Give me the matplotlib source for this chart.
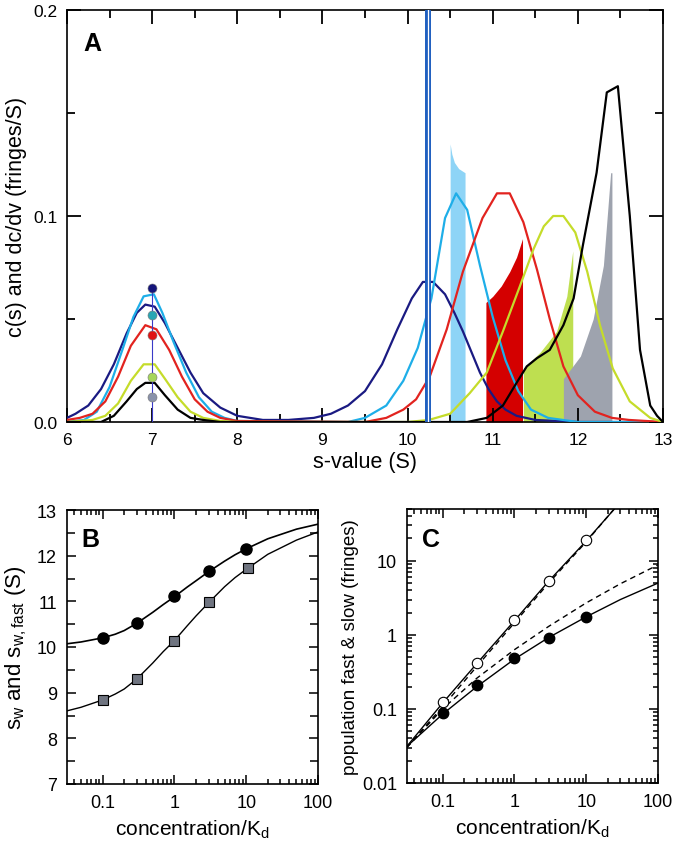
import numpy as np
import matplotlib
matplotlib.use("Agg")
import matplotlib.pyplot as plt
from matplotlib.ticker import MultipleLocator, LogLocator, NullFormatter, FixedLocator, FixedFormatter

plt.rcParams['font.family'] = ['Liberation Sans', 'DejaVu Sans']
plt.rcParams['mathtext.fontset'] = 'custom'
plt.rcParams['mathtext.rm'] = 'Liberation Sans'
plt.rcParams['mathtext.it'] = 'Liberation Sans:italic'

# ---------------- panel A data: c(s) curves ----------------
s_navy = [6.0, 6.1, 6.25, 6.4, 6.55, 6.7, 6.82, 6.92, 7.03, 7.15, 7.3, 7.45, 7.6, 7.8, 8.0, 8.3, 8.6, 8.9, 9.1,
          9.3, 9.5, 9.7, 9.88, 10.05, 10.18, 10.3, 10.44, 10.55, 10.65, 10.75, 10.85, 10.95, 11.05, 11.15, 11.28,
          11.5, 12.0, 13.0]
c_navy = [0.002, 0.004, 0.008, 0.016, 0.028, 0.043, 0.053, 0.057, 0.056, 0.048, 0.036, 0.024, 0.014, 0.007, 0.003,
          0.001, 0.001, 0.002, 0.004, 0.008, 0.015, 0.028, 0.045, 0.060, 0.068, 0.068, 0.062, 0.053, 0.044, 0.034,
          0.024, 0.016, 0.010, 0.006, 0.003, 0.001, 0.0, 0.0]

s_cyan = [6.0, 6.2, 6.35, 6.5, 6.65, 6.78, 6.9, 7.02, 7.12, 7.25, 7.4, 7.55, 7.7, 7.85, 8.0, 9.3, 9.5, 9.75, 9.95,
          10.12, 10.28, 10.44, 10.57, 10.70, 10.85, 11.0, 11.15, 11.3, 11.45, 11.65, 12.0, 13.0]
c_cyan = [0.0, 0.001, 0.005, 0.017, 0.035, 0.051, 0.061, 0.062, 0.053, 0.039, 0.024, 0.012, 0.005, 0.002, 0.0005,
          0.0, 0.002, 0.008, 0.020, 0.036, 0.060, 0.099, 0.111, 0.103, 0.076, 0.051, 0.030, 0.015, 0.006, 0.002,
          0.0, 0.0]

s_red = [6.0, 6.15, 6.3, 6.45, 6.6, 6.75, 6.92, 7.05, 7.2, 7.35, 7.5, 7.65, 7.8, 8.0, 9.5, 9.75, 9.95, 10.1, 10.26,
         10.46, 10.65, 10.88, 11.05, 11.2, 11.36, 11.52, 11.67, 11.83, 12.0, 12.2, 12.4, 12.6, 13.0]
c_red = [0.001, 0.002, 0.004, 0.010, 0.022, 0.037, 0.047, 0.045, 0.035, 0.022, 0.011, 0.005, 0.002, 0.0005, 0.0,
         0.002, 0.006, 0.011, 0.022, 0.045, 0.073, 0.099, 0.111, 0.111, 0.097, 0.074, 0.050, 0.027, 0.013, 0.005,
         0.002, 0.001, 0.0]

s_green = [6.0, 6.3, 6.45, 6.6, 6.75, 6.9, 7.03, 7.15, 7.3, 7.45, 7.6, 7.8, 8.0, 10.0, 10.25, 10.5, 10.73, 10.93,
           11.12, 11.32, 11.48, 11.6, 11.71, 11.83, 11.97, 12.11, 12.26, 12.41, 12.61, 12.85, 13.0]
c_green = [0.0, 0.001, 0.003, 0.009, 0.020, 0.028, 0.028, 0.021, 0.012, 0.005, 0.002, 0.0005, 0.0, 0.0, 0.001,
           0.004, 0.014, 0.024, 0.044, 0.066, 0.084, 0.095, 0.100, 0.100, 0.092, 0.073, 0.047, 0.026, 0.010, 0.002,
           0.0]

s_black = [6.0, 6.4, 6.55, 6.7, 6.82, 6.92, 7.03, 7.15, 7.3, 7.45, 7.6, 7.8, 8.0, 10.7, 10.93, 11.12, 11.28, 11.4,
           11.52, 11.67, 11.83, 11.95, 12.06, 12.22, 12.34, 12.47, 12.61, 12.73, 12.85, 12.93, 13.0]
c_black = [0.0, 0.0, 0.003, 0.010, 0.016, 0.019, 0.019, 0.013, 0.006, 0.002, 0.001, 0.0, 0.0, 0.0, 0.002, 0.008,
           0.019, 0.027, 0.031, 0.035, 0.047, 0.060, 0.086, 0.121, 0.160, 0.163, 0.100, 0.035, 0.008, 0.003, 0.0]

# dc/dv shaded regions (upper edges)
s_fill_cyan = [10.50, 10.52, 10.55, 10.60, 10.675]
h_fill_cyan = [0.135, 0.130, 0.126, 0.123, 0.121]
s_fill_red = [10.92, 11.0, 11.1, 11.2, 11.28, 11.35]
h_fill_red = [0.058, 0.061, 0.066, 0.073, 0.080, 0.089]
s_fill_green = [11.36, 11.56, 11.75, 11.87, 11.94]
h_fill_green = [0.026, 0.034, 0.044, 0.061, 0.083]
s_fill_gray = [11.83, 12.03, 12.18, 12.30, 12.385, 12.40]
h_fill_gray = [0.021, 0.032, 0.050, 0.076, 0.121, 0.121]

# markers at 7 S
dot_vals = [0.065, 0.052, 0.042, 0.0217, 0.0122]
dot_cols = ['#14147a', '#2aa6b4', '#e01414', '#a6d65a', '#8a92aa']
s_small = 7.0
s_marker_line = 10.24

# ---------------- panel B data ----------------
conc_pts = [0.1, 0.3, 1, 3, 10]
conc_sq = [0.1, 0.3, 1, 3, 10.5]
sw_pts = [10.19, 10.53, 11.11, 11.66, 12.15]
swfast_pts = [8.83, 9.30, 10.13, 10.98, 11.72]
conc_fitB = [0.0316, 0.05, 0.1, 0.15, 0.2, 0.3, 0.5, 0.7, 1, 1.5, 2, 3, 5, 7, 10, 20, 50, 100]
sw_fit = [10.07, 10.11, 10.20, 10.28, 10.36, 10.52, 10.76, 10.93, 11.10, 11.31, 11.45, 11.65, 11.88, 12.02,
          12.15, 12.37, 12.58, 12.69]
swfast_fit = [8.60, 8.68, 8.84, 8.97, 9.08, 9.30, 9.65, 9.90, 10.14, 10.46, 10.68, 10.97, 11.32, 11.52, 11.70,
              12.03, 12.34, 12.52]

# ---------------- panel C data ----------------
fast_pts = [0.123, 0.415, 1.6, 5.4, 19.0]
slow_pts = [0.0875, 0.211, 0.484, 0.90, 1.73]
conc_fitC = [0.0316, 0.1, 0.3, 1, 3, 10, 30, 100]
fast_fit = [0.031, 0.12, 0.41, 1.55, 5.3, 18.5, 62, 230]
fast_dash = [0.030, 0.107, 0.375, 1.45, 5.0, 18.0, 63, 240]
slow_fit = [0.031, 0.085, 0.20, 0.47, 0.92, 1.75, 3.0, 5.0]
slow_dash = [0.030, 0.10, 0.26, 0.63, 1.3, 2.7, 4.9, 8.8]

navy, cyan, red, green = '#1a1a82', '#1eaee8', '#e2231f', '#c5dc2a'

fig = plt.figure(figsize=(6.75, 8.53), dpi=100)

# ---------------- A ----------------
axA = fig.add_axes([67 / 675, 1 - 423 / 853, 596 / 675, 412 / 853])
axA.fill_between(s_fill_cyan, 0, h_fill_cyan, color='#8ed4f6', lw=0, zorder=1)
axA.fill_between(s_fill_red, 0, h_fill_red, color='#d40000', lw=0, zorder=1)
axA.fill_between(s_fill_green, 0, h_fill_green, color='#bedf50', lw=0, zorder=1)
axA.fill_between(s_fill_gray, 0, h_fill_gray, color='#9ea3ae', lw=0, zorder=1)

for s, c, col in [(s_navy, c_navy, navy), (s_cyan, c_cyan, cyan), (s_red, c_red, red),
                  (s_green, c_green, green), (s_black, c_black, 'black')]:
    axA.plot(s, c, color=col, lw=1.6, zorder=3)

axA.axvline(s_marker_line, color='#1f5fc0', lw=4.3, zorder=4)
axA.axvline(s_marker_line, color='white', lw=0.9, zorder=5)
axA.plot([s_small, s_small], [0, dot_vals[0]], color='#3a3ac8', lw=0.8, zorder=4)
for v, col in zip(dot_vals, dot_cols):
    axA.plot(s_small, v, 'o', ms=6.5, color=col, mec='#777777', mew=0.4, zorder=6)

axA.set_xlim(6, 13)
axA.set_ylim(0, 0.2)
axA.xaxis.set_major_locator(MultipleLocator(1))
axA.xaxis.set_minor_locator(MultipleLocator(0.5))
axA.yaxis.set_major_locator(FixedLocator([0.0, 0.1, 0.2]))
axA.yaxis.set_major_formatter(FixedFormatter(['0.0', '0.1', '0.2']))
axA.yaxis.set_minor_locator(MultipleLocator(0.05))
axA.tick_params(which='both', direction='in', top=True, right=True, labelsize=12.5, width=1.3, zorder=10)
axA.tick_params(which='major', length=10, pad=7)
axA.tick_params(which='minor', length=5.5)
axA.set_xlabel('s-value (S)', fontsize=15.5, labelpad=3)
axA.set_ylabel('c(s) and dc/dv (fringes/S)', fontsize=15.5, labelpad=4)
axA.text(0.027, 0.903, 'A', transform=axA.transAxes, fontsize=18, fontweight='bold')

# ---------------- B ----------------
axB = fig.add_axes([66.7 / 675, 1 - 785 / 853, 251.3 / 675, 274 / 853])
axB.plot(conc_fitB, sw_fit, color='black', lw=1.2)
axB.plot(conc_fitB, swfast_fit, color='black', lw=1.0)
axB.plot(conc_pts, sw_pts, 'o', ms=8, color='black')
axB.plot(conc_sq, swfast_pts, 's', ms=6.5, color='#6f7480', mec='black', mew=0.8)
axB.set_xscale('log')
axB.set_xlim(10 ** -1.5, 100)
axB.set_ylim(7, 13)
axB.set_xticks([0.1, 1, 10, 100])
axB.set_xticklabels(['0.1', '1', '10', '100'])
axB.xaxis.set_minor_locator(LogLocator(subs=np.arange(2, 10), numticks=20))
axB.xaxis.set_minor_formatter(NullFormatter())
axB.yaxis.set_major_locator(MultipleLocator(1))
axB.yaxis.set_minor_locator(MultipleLocator(0.5))
axB.tick_params(which='both', direction='in', top=True, right=True, labelsize=13, width=1.1)
axB.tick_params(which='major', length=6.5, pad=7)
axB.tick_params(which='minor', length=3.5)
axB.tick_params(axis='y', which='minor', length=6)
axB.set_xlabel(r'concentration/$\mathregular{K_d}$', fontsize=15, labelpad=5)
axB.set_ylabel(r'$\mathregular{s_w}$ and $\mathregular{s_{w,fast}}$ (S)', fontsize=16, labelpad=6)
axB.text(0.06, 0.87, 'B', transform=axB.transAxes, fontsize=18, fontweight='bold')

# ---------------- C ----------------
axC = fig.add_axes([406.7 / 675, 1 - 784 / 853, 251.3 / 675, 274 / 853])
axC.plot(conc_fitC, fast_fit, color='black', lw=1.0)
axC.plot(conc_fitC, fast_dash, color='black', lw=1.0, ls=(0, (4, 3)))
axC.plot(conc_fitC, slow_fit, color='black', lw=1.0)
axC.plot(conc_fitC, slow_dash, color='black', lw=1.0, ls=(0, (4, 3)))
axC.plot(conc_pts, fast_pts, 'o', ms=7.5, mfc='white', mec='black', mew=0.8)
axC.plot(conc_pts, slow_pts, 'o', ms=7.5, color='black')
axC.set_xscale('log')
axC.set_yscale('log')
axC.set_xlim(10 ** -1.5, 100)
axC.set_ylim(0.01, 50)
axC.set_xticks([0.1, 1, 10, 100])
axC.set_xticklabels(['0.1', '1', '10', '100'])
axC.set_yticks([0.01, 0.1, 1, 10])
axC.set_yticklabels(['0.01', '0.1', '1', '10'])
for ax in (axC.xaxis, axC.yaxis):
    ax.set_minor_locator(LogLocator(subs=np.arange(2, 10), numticks=20))
    ax.set_minor_formatter(NullFormatter())
axC.tick_params(which='both', direction='in', top=True, right=True, labelsize=13, width=1.1)
axC.tick_params(which='major', length=6.5, pad=7)
axC.tick_params(which='minor', length=3.5)
axC.set_xlabel(r'concentration/$\mathregular{K_d}$', fontsize=15, labelpad=5)
axC.set_ylabel('population fast & slow (fringes)', fontsize=13.5, labelpad=2)
axC.text(0.06, 0.866, 'C', transform=axC.transAxes, fontsize=18, fontweight='bold')

for ax in (axA, axB, axC):
    for sp in ax.spines.values():
        sp.set_linewidth(1.2)

fig.savefig('out.png', dpi=100)
